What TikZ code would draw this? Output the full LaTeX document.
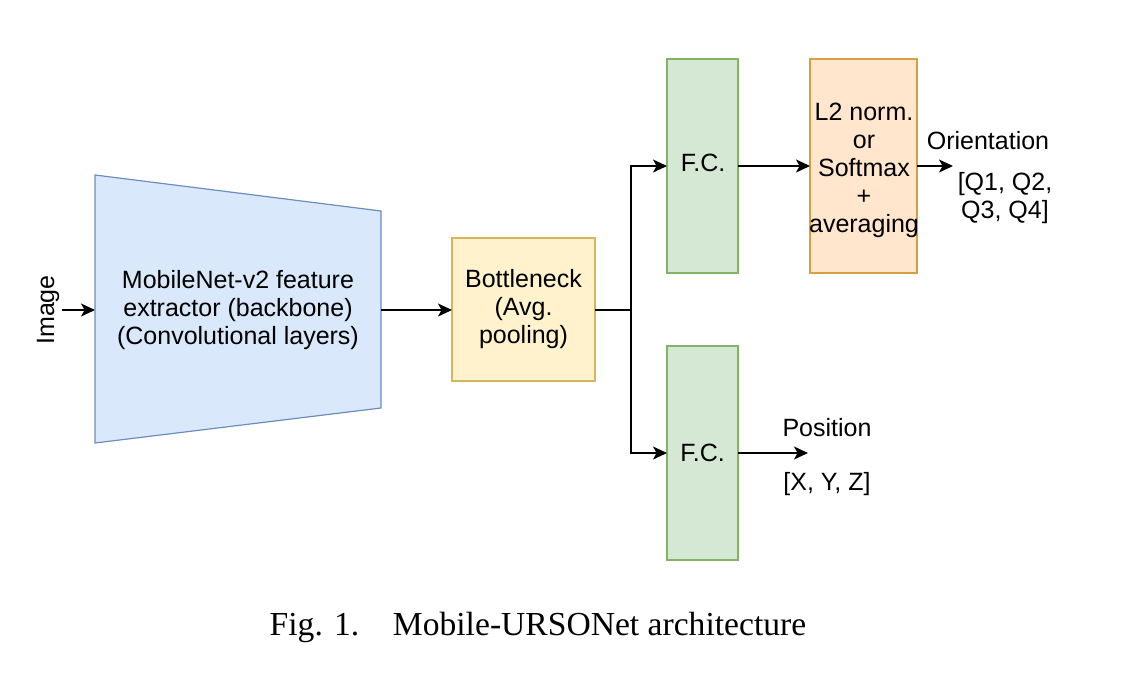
\documentclass[tikz,border=0pt]{standalone}
\usepackage{fontspec}
\setmainfont{Liberation Sans}
\newfontfamily\capfont{Liberation Serif}
\usetikzlibrary{arrows.meta}
\definecolor{bluefill}{HTML}{DAE8FC}
\definecolor{bluedraw}{HTML}{6C8EBF}
\definecolor{yelfill}{HTML}{FFF2CC}
\definecolor{yeldraw}{HTML}{D6B656}
\definecolor{grnfill}{HTML}{D5E8D4}
\definecolor{grndraw}{HTML}{82B366}
\definecolor{orgfill}{HTML}{FFE6CC}
\definecolor{orgdraw}{HTML}{D6A040}
\tikzset{
  lbl/.style={font=\fontsize{12.5}{14}\selectfont, align=center, inner sep=1pt},
  blk/.style={lbl, draw, line width=0.6pt, anchor=north west, inner sep=0pt, outer sep=0pt},
  arr/.style={-{Stealth[length=7pt,width=6.5pt,inset=1.8pt]}, line width=0.8pt, black},
  ln/.style={line width=0.8pt, black}
}
\begin{document}
\begin{tikzpicture}[x=0.5pt,y=-0.5pt]
\useasboundingbox (0,0) rectangle (1148,696);
% trapezoid backbone
\draw[fill=bluefill, draw=bluedraw, line width=0.6pt] (95,175) -- (381,211) -- (381,408) -- (95,443) -- cycle;
\node[lbl, minimum width=143pt, inner sep=0pt, outer sep=0pt] (bb) at (238,310) {MobileNet-v2 feature\\extractor (backbone)\\(Convolutional layers)};
\node[lbl, rotate=90] (img) at (48,310) {Image};
% blocks
\node[blk, fill=yelfill, draw=yeldraw, minimum width=71.5pt, minimum height=71.5pt] (bn) at (452,238) {Bottleneck\\(Avg.\\pooling)};
\node[blk, fill=grnfill, draw=grndraw, minimum width=35.5pt, minimum height=107pt] (fc1) at (667,59) {};
\node[lbl] (fc1t) at (703,163) {F.C.};
\node[blk, fill=grnfill, draw=grndraw, minimum width=35.5pt, minimum height=107pt] (fc2) at (667,346) {F.C.};
\node[blk, fill=orgfill, draw=orgdraw, minimum width=53.5pt, minimum height=107pt] (l2) at (810,59) {};
\node[lbl] (l2t) at (864,170) {L2 norm.\\or\\Softmax\\+\\averaging};
% outputs
\coordinate (oend) at (953,167);
\coordinate (pend) at (808,452);
\coordinate (split) at (631,310);
\node[lbl] (ori) at (988,141) {Orientation};
\node[lbl] (q) at (1005,198) {[Q1, Q2,\\Q3, Q4]};
\node[lbl] (pos) at (827,428) {Position};
\node[lbl] (xyz) at (827,484) {[X, Y, Z]};
% connectors
\draw[arr] (img.south) -- (95,310);
\draw[arr] (bb.east) -- (bb.east -| bn.west);
\draw[ln] (bn.east |- split) -- (split);
\draw[arr] (split) |- (fc1.west);
\draw[arr] (split) |- (fc2.west);
\draw[arr] (fc1.east) -- (fc1.east -| l2.west);
\draw[arr] (fc1.east -| l2.east) -- (fc1.east -| oend);
\draw[arr] (fc2.east) -- (fc2.east -| pend);
% caption
\node[inner sep=0pt] (cap) at (538,627) {\capfont\fontsize{16.8}{20}\selectfont Fig. 1.\quad Mobile-URSONet architecture};
\end{tikzpicture}
\end{document}
